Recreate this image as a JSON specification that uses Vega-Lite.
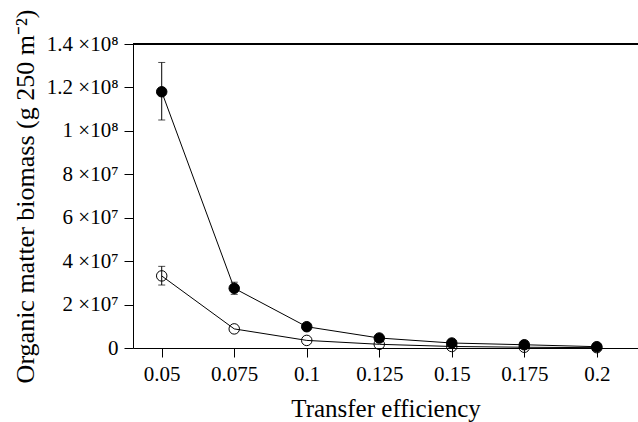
{
  "$schema": "https://vega.github.io/schema/vega-lite/v6.json",
  "autosize": "none",
  "width": 505,
  "height": 304,
  "padding": {"left": 133, "top": 44, "right": 0, "bottom": 74},
  "background": "white",
  "config": {
    "view": {"stroke": null},
    "font": "Liberation Serif",
    "axis": {
      "domainColor": "black", "tickColor": "black", "grid": false,
      "labelColor": "black", "titleColor": "black",
      "labelFont": "Liberation Serif", "titleFont": "Liberation Serif",
      "labelFontSize": 21, "titleFontSize": 25, "titleFontWeight": "normal",
      "tickSize": 9, "domainWidth": 1, "tickWidth": 1
    }
  },
  "data": {
    "values": [
      {"te": 0.05, "series": "solid", "v": 118000000, "lo": 105000000, "hi": 131500000},
      {"te": 0.075, "series": "solid", "v": 27500000, "lo": 24700000, "hi": 30300000},
      {"te": 0.1, "series": "solid", "v": 9800000},
      {"te": 0.125, "series": "solid", "v": 4600000},
      {"te": 0.15, "series": "solid", "v": 2300000},
      {"te": 0.175, "series": "solid", "v": 1500000},
      {"te": 0.2, "series": "solid", "v": 600000},
      {"te": 0.05, "series": "open", "v": 33200000, "lo": 29000000, "hi": 37600000},
      {"te": 0.075, "series": "open", "v": 8800000},
      {"te": 0.1, "series": "open", "v": 3500000},
      {"te": 0.125, "series": "open", "v": 1700000},
      {"te": 0.15, "series": "open", "v": 700000},
      {"te": 0.175, "series": "open", "v": 350000},
      {"te": 0.2, "series": "open", "v": 150000}
    ]
  },
  "encoding": {
    "x": {
      "field": "te", "type": "quantitative",
      "scale": {"domain": [0.0401, 0.2142], "nice": false, "zero": false},
      "axis": {
        "values": [0.05, 0.075, 0.1, 0.125, 0.15, 0.175, 0.2],
        "labelExpr": "'' + datum.value",
        "title": "Transfer efficiency",
        "labelPadding": 6,
        "titleFontSize": 25,
        "titleBaseline": "alphabetic", "titleY": 68
      }
    }
  },
  "layer": [
    {
      "mark": {"type": "rule", "color": "black", "strokeWidth": 1},
      "encoding": {"x": null, "y": {"datum": 140000000, "type": "quantitative", "scale": {"domain": [0, 140000000], "nice": false}}}
    },
    {
      "transform": [{"filter": "isValid(datum.lo)"}],
      "mark": {"type": "rule", "color": "black", "strokeWidth": 1},
      "encoding": {
        "y": {"field": "lo", "type": "quantitative"},
        "y2": {"field": "hi"}
      }
    },
    {
      "transform": [{"filter": "isValid(datum.lo)"}],
      "mark": {"type": "tick", "orient": "horizontal", "color": "black", "thickness": 1, "size": 7},
      "encoding": {"y": {"field": "lo", "type": "quantitative"}}
    },
    {
      "transform": [{"filter": "isValid(datum.hi)"}],
      "mark": {"type": "tick", "orient": "horizontal", "color": "black", "thickness": 1, "size": 7},
      "encoding": {"y": {"field": "hi", "type": "quantitative"}}
    },
    {
      "mark": {"type": "line", "color": "black", "strokeWidth": 1},
      "encoding": {
        "y": {"field": "v", "type": "quantitative"},
        "detail": {"field": "series"}
      }
    },
    {
      "mark": {"type": "point", "shape": "circle", "size": 110, "stroke": "black", "strokeWidth": 1, "opacity": 1},
      "encoding": {
        "y": {
          "field": "v", "type": "quantitative",
          "scale": {"domain": [0, 140000000], "nice": false},
          "axis": {
            "values": [0, 20000000, 40000000, 60000000, 80000000, 100000000, 120000000, 140000000],
            "labelExpr": "datum.value == 0 ? '0' : (datum.value < 100000000 ? format(datum.value / 10000000, '~g') + ' ×10⁷' : format(datum.value / 100000000, '~g') + ' ×10⁸')",
            "labelPadding": 6,
            "title": "Organic matter biomass (g 250 m⁻²)",
            "titleFontSize": 26,
            "titleBaseline": "bottom", "titleX": -95
          }
        },
        "fill": {
          "field": "series", "type": "nominal",
          "scale": {"domain": ["solid", "open"], "range": ["black", "transparent"]},
          "legend": null
        }
      }
    }
  ]
}
